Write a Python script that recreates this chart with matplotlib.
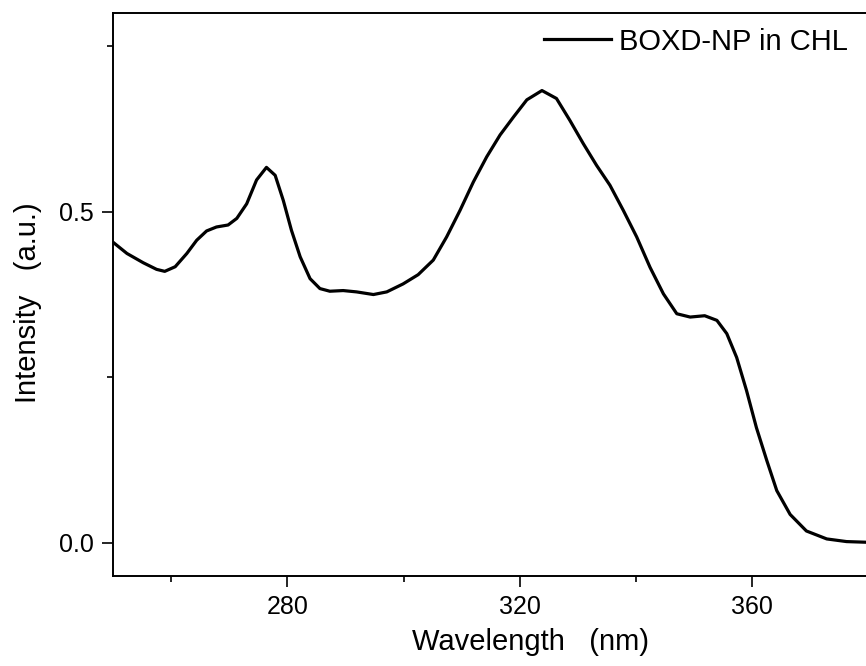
import matplotlib.pyplot as plt
from matplotlib.ticker import MultipleLocator

# 读取的数据点 (波长 nm, 强度 a.u.)
wavelength = [250.0, 252.4, 255.2, 257.5, 258.9, 260.7, 262.7, 264.4, 266.1, 267.8,
              269.8, 271.3, 273.0, 274.7, 276.4, 277.9, 279.3, 280.7, 282.2, 283.9,
              285.6, 287.3, 289.6, 291.9, 294.8, 297.1, 299.9, 302.5, 305.1, 307.4,
              309.7, 312.0, 314.3, 316.6, 318.9, 321.2, 323.8, 326.3, 328.6, 330.9,
              333.2, 335.5, 337.8, 340.1, 342.4, 344.7, 347.0, 349.3, 351.8, 353.9,
              355.6, 357.3, 359.0, 360.7, 362.5, 364.2, 366.5, 369.3, 372.8, 376.2,
              379.6]
intensity = [0.454, 0.437, 0.423, 0.413, 0.410, 0.417, 0.437, 0.457, 0.471, 0.477,
             0.480, 0.490, 0.512, 0.548, 0.567, 0.555, 0.517, 0.472, 0.432, 0.399,
             0.384, 0.380, 0.381, 0.379, 0.375, 0.379, 0.391, 0.405, 0.427, 0.462,
             0.502, 0.545, 0.583, 0.616, 0.643, 0.669, 0.683, 0.671, 0.638, 0.603,
             0.570, 0.540, 0.502, 0.462, 0.416, 0.376, 0.346, 0.341, 0.343, 0.336,
             0.316, 0.280, 0.230, 0.174, 0.124, 0.079, 0.043, 0.018, 0.006, 0.002,
             0.001]

plt.rcParams['font.family'] = ['Liberation Sans', 'DejaVu Sans']

fig = plt.figure(figsize=(8.66, 6.66), dpi=100)
ax = fig.add_axes([0.1305, 0.1351, 0.8725, 0.8453])
ax.plot(wavelength, intensity, color='black', linewidth=2.3,
        solid_joinstyle='round', label='BOXD-NP in CHL')

ax.set_xlim(250, 380)
ax.set_ylim(-0.05, 0.8)
ax.set_xticks([280, 320, 360])
ax.xaxis.set_minor_locator(MultipleLocator(20))
ax.set_yticks([0.0, 0.5])
ax.set_yticklabels(['0.0', '0.5'])
ax.yaxis.set_minor_locator(MultipleLocator(0.25))
ax.tick_params(which='major', direction='out', length=8, width=1.2, pad=6, labelsize=18)
ax.tick_params(which='minor', direction='out', length=4, width=1.2)
ax.spines['right'].set_visible(False)
for s in ['left', 'bottom', 'top']:
    ax.spines[s].set_linewidth(1.4)

ax.set_xlabel('Wavelength   (nm)', fontsize=21, labelpad=6)
ax.xaxis.label.set_x(0.553)
ax.set_ylabel('Intensity   (a.u.)', fontsize=21, labelpad=12)
ax.yaxis.label.set_y(0.485)

ax.legend(loc='upper right', bbox_to_anchor=(860 / 866, 1 - 16 / 666),
          bbox_transform=fig.transFigure, frameon=False, fontsize=21,
          handlelength=2.3, handletextpad=0.3, borderaxespad=0)

plt.savefig('out.png', dpi=100)
